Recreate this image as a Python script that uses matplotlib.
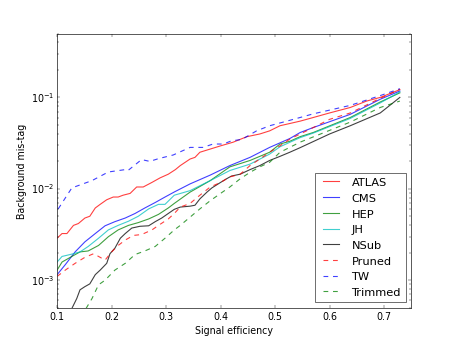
import matplotlib
matplotlib.use("Agg")
import matplotlib.pyplot as plt

# ── 数据 ──
atlas_x = [0.100, 0.109, 0.118, 0.130, 0.139, 0.151, 0.160, 0.170, 0.179, 0.191,
           0.203, 0.212, 0.221, 0.234, 0.246, 0.258, 0.274, 0.289, 0.304, 0.317,
           0.326, 0.344, 0.353, 0.362, 0.381, 0.400, 0.423, 0.448, 0.472, 0.490,
           0.509, 0.546, 0.570, 0.600, 0.638, 0.668, 0.693, 0.729]
atlas_y = [0.00288, 0.00324, 0.00324, 0.00398, 0.00417, 0.00479, 0.00501, 0.00617, 0.00676, 0.00759,
           0.00813, 0.00813, 0.00851, 0.00891, 0.01047, 0.01047, 0.01175, 0.01318, 0.01445, 0.01622,
           0.01795, 0.02118, 0.02208, 0.02512, 0.02723, 0.02951, 0.03236, 0.03715, 0.03981, 0.04305,
           0.04898, 0.05500, 0.06026, 0.06761, 0.07760, 0.09120, 0.1000, 0.1216]

cms_x = [0.100, 0.115, 0.133, 0.151, 0.170, 0.188, 0.206, 0.225, 0.243, 0.261,
         0.280, 0.298, 0.315, 0.344, 0.381, 0.417, 0.454, 0.490, 0.527, 0.546,
         0.570, 0.638, 0.693, 0.729]
cms_y = [0.00115, 0.00148, 0.00204, 0.00263, 0.00324, 0.00394, 0.00437, 0.00479, 0.00537, 0.00617,
         0.00708, 0.00813, 0.00923, 0.01132, 0.01413, 0.01795, 0.02208, 0.02838, 0.03548, 0.04130,
         0.04680, 0.06530, 0.09550, 0.1175]

hep_x = [0.100, 0.109, 0.127, 0.142, 0.157, 0.176, 0.194, 0.212, 0.231, 0.249,
         0.268, 0.286, 0.304, 0.315, 0.344, 0.381, 0.417, 0.454, 0.490, 0.509,
         0.527, 0.546, 0.570, 0.638, 0.693, 0.729]
hep_y = [0.00129, 0.00158, 0.00182, 0.00204, 0.00209, 0.00240, 0.00299, 0.00355, 0.00398, 0.00427,
         0.00468, 0.00525, 0.00617, 0.00692, 0.00920, 0.01230, 0.01738, 0.02042, 0.02512, 0.0309,
         0.0331, 0.03720, 0.04130, 0.06030, 0.08910, 0.1122]

jh_x = [0.100, 0.109, 0.124, 0.142, 0.157, 0.176, 0.194, 0.212, 0.231, 0.249,
        0.268, 0.286, 0.298, 0.315, 0.344, 0.381, 0.417, 0.454, 0.490, 0.509,
        0.546, 0.570, 0.638, 0.693, 0.729]
jh_y = [0.00158, 0.00182, 0.00191, 0.00204, 0.00234, 0.00288, 0.00355, 0.00398, 0.00442, 0.00501,
        0.00603, 0.00676, 0.00676, 0.00851, 0.00955, 0.01230, 0.01585, 0.01862, 0.02399, 0.02884,
        0.03630, 0.04070, 0.05890, 0.08710, 0.1148]

nsub_x = [0.127, 0.136, 0.142, 0.151, 0.160, 0.170, 0.179, 0.191, 0.197, 0.206,
          0.216, 0.225, 0.237, 0.252, 0.268, 0.280, 0.292, 0.304, 0.315, 0.326,
          0.344, 0.353, 0.362, 0.375, 0.384, 0.400, 0.411, 0.420, 0.436, 0.454,
          0.472, 0.490, 0.509, 0.527, 0.546, 0.600, 0.638, 0.693, 0.729]
nsub_y = [0.00049, 0.00063, 0.000785, 0.000851, 0.000912, 0.00115, 0.00129, 0.00153, 0.00195, 0.00224,
          0.00288, 0.00324, 0.00372, 0.00389, 0.00394, 0.00437, 0.00479, 0.00537, 0.00596, 0.00631,
          0.00646, 0.00661, 0.00776, 0.00920, 0.01023, 0.01175, 0.01288, 0.01380, 0.01445, 0.01622,
          0.01795, 0.02042, 0.02265, 0.02512, 0.02820, 0.03980, 0.04900, 0.06760, 0.1000]

pruned_x = [0.100, 0.115, 0.133, 0.151, 0.167, 0.176, 0.188, 0.200, 0.212, 0.225,
            0.240, 0.255, 0.274, 0.286, 0.304, 0.315, 0.326, 0.344, 0.362, 0.381,
            0.400, 0.417, 0.436, 0.454, 0.472, 0.490, 0.509, 0.527, 0.570, 0.600,
            0.638, 0.686, 0.729]
pruned_y = [0.00110, 0.00129, 0.00153, 0.00178, 0.00195, 0.00182, 0.00166, 0.00204, 0.00240, 0.00275,
            0.00309, 0.00316, 0.00355, 0.00398, 0.00468, 0.00537, 0.00631, 0.00692, 0.00851, 0.01047,
            0.01175, 0.01349, 0.01445, 0.01795, 0.02118, 0.02512, 0.02951, 0.03500, 0.04677, 0.05754,
            0.06760, 0.09330, 0.1230]

tw_x = [0.102, 0.127, 0.164, 0.194, 0.225, 0.230, 0.255, 0.270, 0.286, 0.313,
        0.344, 0.368, 0.386, 0.405, 0.420, 0.439, 0.466, 0.490, 0.515, 0.546,
        0.570, 0.638, 0.693, 0.729]
tw_y = [0.00603, 0.01023, 0.01230, 0.01528, 0.01622, 0.01585, 0.02089, 0.01995, 0.02138, 0.02344,
        0.02838, 0.02838, 0.03090, 0.03090, 0.03350, 0.03467, 0.04305, 0.04898, 0.05370, 0.06030,
        0.06610, 0.08180, 0.1047, 0.1245]

trim_x = [0.153, 0.164, 0.176, 0.188, 0.206, 0.225, 0.243, 0.261, 0.280, 0.298,
          0.315, 0.326, 0.344, 0.362, 0.381, 0.400, 0.417, 0.436, 0.454, 0.472,
          0.490, 0.509, 0.546, 0.638, 0.693, 0.729]
trim_y = [0.00049, 0.00063, 0.000891, 0.00100, 0.00129, 0.00153, 0.00191, 0.00209, 0.00234, 0.00288,
          0.00355, 0.00398, 0.00490, 0.00603, 0.00741, 0.00891, 0.01047, 0.01288, 0.01514, 0.01738,
          0.01950, 0.0251, 0.03240, 0.05370, 0.07760, 0.09120]

series = [
    ("ATLAS", atlas_x, atlas_y, "r", "-"),
    ("CMS", cms_x, cms_y, "b", "-"),
    ("HEP", hep_x, hep_y, "g", "-"),
    ("JH", jh_x, jh_y, "c", "-"),
    ("NSub", nsub_x, nsub_y, "k", "-"),
    ("Pruned", pruned_x, pruned_y, "r", "--"),
    ("TW", tw_x, tw_y, "b", "--"),
    ("Trimmed", trim_x, trim_y, "g", "--"),
]

plt.style.use("classic")
DPI = 457 / 8.0

fig, ax = plt.subplots(figsize=(8, 6), facecolor="white")
for name, xs, ys, col, ls in series:
    ax.plot(xs, ys, color=col, ls=ls, lw=1.4, alpha=0.75, label=name)

ax.set_yscale("log")
ax.set_xlim(0.1, 0.75)
ax.set_ylim(5e-4, 0.5)
ax.set_xticks([0.1, 0.2, 0.3, 0.4, 0.5, 0.6, 0.7])
ax.set_xlabel("Signal efficiency")
ax.set_ylabel("Background mis-tag")
leg = ax.legend(loc="lower right")
leg.get_frame().set_edgecolor("0.3")
for sp in ax.spines.values():
    sp.set_edgecolor("0.2")

fig.savefig("out.png", dpi=DPI, facecolor="white")
